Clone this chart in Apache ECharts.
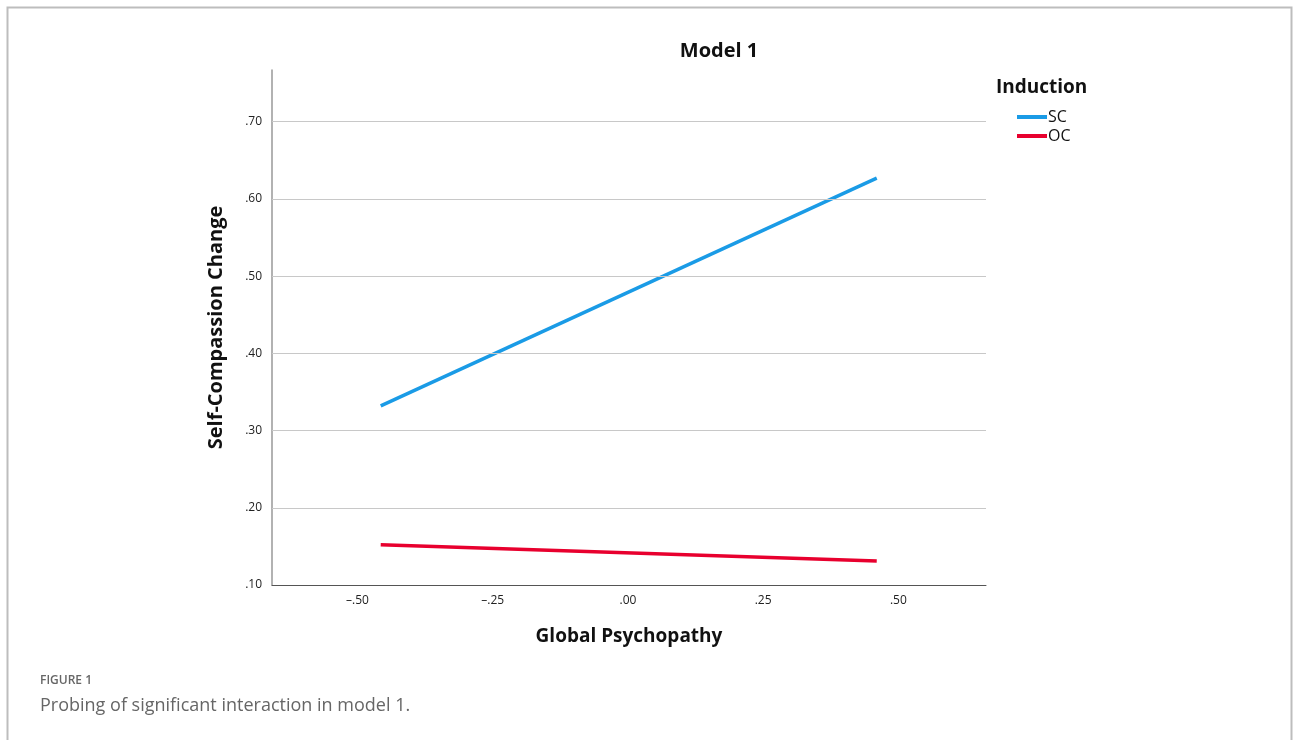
<!DOCTYPE html>
<html>
<head>
<meta charset="utf-8">
<script src="https://cdn.jsdelivr.net/npm/echarts@6/dist/echarts.min.js"></script>
<style>
html,body{margin:0;padding:0;background:#fff;}
#c{width:1293px;height:740px;}
</style>
</head>
<body>
<div id="c"></div>
<script>
// Data
var xPoints = [-0.457, 0.460];
var scValues = [0.332, 0.627];
var ocValues = [0.152, 0.131];
var xTicks = [-0.50, -0.25, 0.00, 0.25, 0.50];
var yTicks = [0.10, 0.20, 0.30, 0.40, 0.50, 0.60, 0.70];
var seriesNames = ['SC', 'OC'];

function fmt(v){
  var s = Math.abs(v).toFixed(2).replace(/^0/, '');
  return (v < -1e-9 ? '\u2013' : '') + s;
}

var chart = echarts.init(document.getElementById('c'));
var font = '"Open Sans", "Noto Sans", sans-serif';
chart.setOption({
  animation: false,
  legend: {
    left: 1012, top: 104, orient: 'vertical', itemGap: 3,
    itemWidth: 30, itemHeight: 4, icon: 'rect',
    data: seriesNames,
    textStyle: {fontFamily: font, fontSize: 16, color: '#111', padding: [0,0,0,-4]}
  },
  grid: {left: 272, right: 1293 - 986, top: 70, bottom: 740 - 585},
  xAxis: {
    type: 'value', min: -0.658, max: 0.662,
    name: 'Global Psychopathy', nameLocation: 'middle', nameGap: 42,
    nameTextStyle: {fontFamily: font, fontWeight: 'bold', fontSize: 19, color: '#111'},
    axisLine: {show: true, onZero: false, lineStyle: {color: '#555', width: 1}},
    axisTick: {show: false},
    splitLine: {show: false},
    axisLabel: {
      customValues: xTicks, formatter: fmt, margin: 10,
      fontFamily: font, fontSize: 12, color: '#222'
    }
  },
  yAxis: {
    type: 'value', min: 0.10, max: 0.767,
    name: 'Self-Compassion Change', nameLocation: 'middle', nameGap: 46,
    nameTextStyle: {fontFamily: font, fontWeight: 'bold', fontSize: 20, color: '#111'},
    axisLine: {show: true, onZero: false, lineStyle: {color: '#999', width: 1.5}},
    axisTick: {show: false},
    splitLine: {show: false},
    axisLabel: {
      customValues: yTicks, formatter: fmt, margin: 10,
      fontFamily: font, fontSize: 12, color: '#222'
    }
  },
  series: [
    {
      name: 'SC', type: 'line', symbol: 'none',
      data: xPoints.map(function(x,i){return [x, scValues[i]];}),
      lineStyle: {color: '#1a9be6', width: 3.5}, itemStyle: {color: '#1a9be6'},
      markLine: {
        silent: true, symbol: 'none', label: {show: false},
        lineStyle: {color: '#c8c8c8', width: 1, type: 'solid'},
        data: yTicks.slice(1).map(function(v){return {yAxis: v};})
      }
    },
    {
      name: 'OC', type: 'line', symbol: 'none',
      data: xPoints.map(function(x,i){return [x, ocValues[i]];}),
      lineStyle: {color: '#e8002e', width: 3.5}, itemStyle: {color: '#e8002e'}
    }
  ],
  graphic: [
    {type: 'polyline', shape: {points: [[7.5, 740], [7.5, 7.5], [1291.5, 7.5], [1291.5, 740]]},
     style: {stroke: '#bdbdbd', lineWidth: 2, fill: null}},
    {type: 'text', x: 719, y: 51,
     style: {text: 'Model 1', textAlign: 'center', textVerticalAlign: 'middle', fontFamily: font, fontWeight: 'bold', fontSize: 20, fill: '#111'}},
    {type: 'text', x: 996, y: 88,
     style: {text: 'Induction', textVerticalAlign: 'middle', fontFamily: font, fontWeight: 'bold', fontSize: 19, fill: '#111'}},
    {type: 'text', x: 40, y: 681,
     style: {text: 'FIGURE 1', textVerticalAlign: 'middle', fontFamily: font, fontWeight: 600, fontSize: 12, fill: '#666'}},
    {type: 'text', x: 40, y: 706,
     style: {text: 'Probing of significant interaction in model 1.', textVerticalAlign: 'middle', fontFamily: font, fontSize: 18, fill: '#666'}}
  ]
});
</script>
</body>
</html>
